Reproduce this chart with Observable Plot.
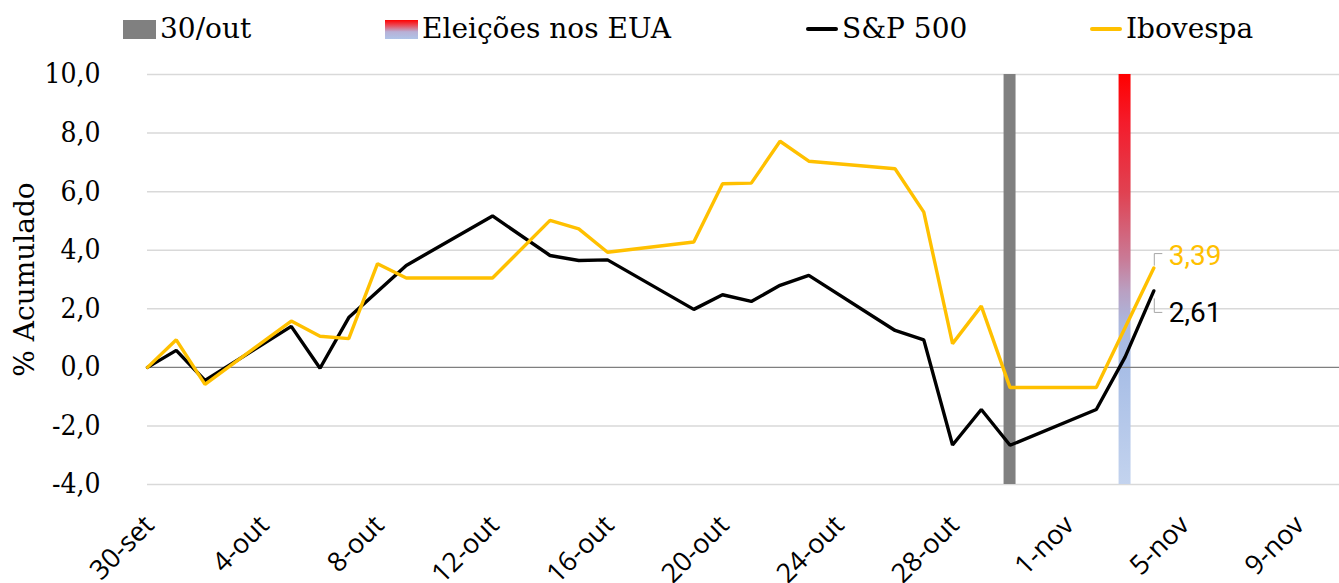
<!DOCTYPE html>
<html>
<head>
<meta charset="utf-8">
<script src="https://cdn.jsdelivr.net/npm/d3@7"></script>
<script src="https://cdn.jsdelivr.net/npm/@observablehq/plot@0.6"></script>
<style>
  html, body { margin: 0; padding: 0; background: #fff; }
  #wrap { width: 1339px; position: relative; }
  #legend { position: relative; height: 56px; width: 1339px; font-family: "DejaVu Serif", serif; font-size: 28px; color: #000; }
  .sw { position: absolute; }
  .lt { position: absolute; top: 11px; line-height: 36px; white-space: nowrap; }
</style>
</head>
<body>
<div id="wrap">
  <div id="legend"></div>
  <div id="chart"></div>
</div>
<script>
// ---- data ----
const dates = ["2020-09-30","2020-10-01","2020-10-02","2020-10-05","2020-10-06","2020-10-07","2020-10-08","2020-10-09",
  "2020-10-12","2020-10-14","2020-10-15","2020-10-16","2020-10-19","2020-10-20","2020-10-21","2020-10-22","2020-10-23",
  "2020-10-26","2020-10-27","2020-10-28","2020-10-29","2020-10-30","2020-11-02","2020-11-03","2020-11-04"];
const sp500 = [0, 0.58, -0.45, 1.40, -0.03, 1.70, null, 3.48,
  5.17, 3.82, 3.65, 3.67, 1.98, 2.48, 2.25, 2.80, 3.14,
  1.26, 0.94, -2.65, -1.44, -2.66, -1.44, 0.35, 2.61];
const ibovespa = [0, 0.94, -0.58, 1.58, 1.06, 0.98, 3.54, 3.05,
  3.05, 5.02, 4.73, 3.93, 4.28, 6.27, 6.29, 7.72, 7.04,
  6.78, 5.30, 0.81, 2.09, -0.69, -0.69, null, 3.39];
const seriesNames = ["S&P 500", "Ibovespa"];
const eventNames = ["30/out", "Eleições nos EUA"];
const eventDates = ["2020-10-30", "2020-11-03"];
const tickDates = ["2020-09-30","2020-10-04","2020-10-08","2020-10-12","2020-10-16","2020-10-20","2020-10-24","2020-10-28","2020-11-01","2020-11-05","2020-11-09"];
const tickLabels = ["30-set","4-out","8-out","12-out","16-out","20-out","24-out","28-out","1-nov","5-nov","9-nov"];
const yTicks = [-4, -2, 0, 2, 4, 6, 8, 10];
const lastLabels = ["3,39", "2,61"];

// ---- build tables ----
const spData = dates.map((d, i) => ({date: new Date(d), v: sp500[i]})).filter(d => d.v != null);
const ibData = dates.map((d, i) => ({date: new Date(d), v: ibovespa[i]})).filter(d => d.v != null);
const evData = eventDates.map((d, i) => ({name: eventNames[i], date: new Date(d)}));
const tickMap = new Map(tickDates.map((d, i) => [+new Date(d), tickLabels[i]]));

const serif = "'DejaVu Serif', serif";
const serifCond = "'DejaVu Serif Condensed', 'DejaVu Serif', serif";
const COLOR_SP = "#000000", COLOR_IB = "#FFC000";

// ---- legend ----
const legend = document.getElementById("legend");
legend.innerHTML = `
  <div class="sw" style="left:123px;top:20px;width:33px;height:19px;background:#808080"></div>
  <div class="lt" style="left:160px">${eventNames[0]}</div>
  <div class="sw" style="left:385px;top:20px;width:33px;height:19px;background:linear-gradient(#FF0000 0%, #E8505E 30%, #B8B0D6 62%, #AFC4E8 100%)"></div>
  <div class="lt" style="left:422px">${eventNames[1]}</div>
  <div class="sw" style="left:806px;top:27px;width:32px;height:4px;background:${COLOR_SP};border-radius:2px"></div>
  <div class="lt" style="left:842px">${seriesNames[0]}</div>
  <div class="sw" style="left:1090px;top:27px;width:32px;height:4px;background:${COLOR_IB};border-radius:2px"></div>
  <div class="lt" style="left:1126px">${seriesNames[1]}</div>
`;

// ---- chart ----
const gradientDefs = () => {
  const ns = "http://www.w3.org/2000/svg";
  const defs = document.createElementNS(ns, "defs");
  defs.innerHTML = `<linearGradient id="elec" x1="0" y1="0" x2="0" y2="1">
    <stop offset="0" stop-color="#FF0000"/>
    <stop offset="0.12" stop-color="#F41C2C"/>
    <stop offset="0.29" stop-color="#E04252"/>
    <stop offset="0.45" stop-color="#C97A96"/>
    <stop offset="0.53" stop-color="#B9A0C2"/>
    <stop offset="0.61" stop-color="#ABB8DE"/>
    <stop offset="0.72" stop-color="#A8BEE6"/>
    <stop offset="1" stop-color="#C3D3EE"/>
  </linearGradient>`;
  return defs;
};

const plot = Plot.plot({
  width: 1339,
  height: 527,
  marginTop: 18,
  marginBottom: 99,
  marginLeft: 147,
  marginRight: 0,
  style: {fontFamily: serif, background: "#fff", overflow: "visible"},
  x: {type: "utc", domain: [new Date("2020-09-30"), new Date("2020-11-10T11:00Z")]},
  y: {domain: [-4, 10]},
  marks: [
    gradientDefs,
    Plot.ruleY(yTicks.filter(t => t !== 0), {stroke: "#D9D9D9", strokeWidth: 1.5}),
    Plot.rect(evData, {
      x1: d => d3.utcHour.offset(d.date, -5),
      x2: d => d3.utcHour.offset(d.date, 5),
      y1: -4, y2: 10,
      fill: (d, i) => i === 0 ? "#808080" : "url(#elec)"
    }),
    Plot.ruleY([0], {stroke: "#7F7F7F", strokeWidth: 1.2}),
    Plot.line(spData, {x: "date", y: "v", stroke: COLOR_SP, strokeWidth: 3.4, strokeLinejoin: "miter"}),
    Plot.line(ibData, {x: "date", y: "v", stroke: COLOR_IB, strokeWidth: 3.4, strokeLinejoin: "miter"}),
    Plot.text([ibData[ibData.length - 1]], {x: "date", y: "v", text: () => lastLabels[0], fill: COLOR_IB,
      dx: 15, dy: -12, textAnchor: "start", fontSize: 28, fontFamily: "Roboto"}),
    Plot.text([spData[spData.length - 1]], {x: "date", y: "v", text: () => lastLabels[1], fill: COLOR_SP,
      dx: 15, dy: 22, textAnchor: "start", fontSize: 28, fontFamily: "Roboto"}),
    Plot.axisY(yTicks, {tickSize: 0, tickPadding: 47, fontSize: 28, fontFamily: serifCond,
      tickFormat: d => d3.format(".1f")(d).replace(".", ",").replace("−", "-"), label: null}),
    Plot.text(["% Acumulado"], {frameAnchor: "left", textAnchor: "middle", lineAnchor: "middle", dx: -122, rotate: -90,
      fontSize: 28, fontFamily: serif, fill: "#000"}),
    Plot.axisX(tickDates.map(d => new Date(d)), {tickSize: 0, tickPadding: 36, dx: 2, tickRotate: -45, fontSize: 27,
      fontFamily: "'Open Sans', sans-serif", tickFormat: d => tickMap.get(+d), label: null})
  ]
});
document.getElementById("chart").appendChild(plot);

// leader lines for the end labels, positioned from the plot's scales
const xs = plot.scale("x"), ysc = plot.scale("y");
const svg = d3.select(plot);
const lastIb = ibData[ibData.length - 1], lastSp = spData[spData.length - 1];
const xi = xs.apply(lastIb.date), yi = ysc.apply(lastIb.v);
const xp = xs.apply(lastSp.date), yp = ysc.apply(lastSp.v);
svg.append("path").attr("d", `M${xi + 1},${yi - 2}V${yi - 14}H${xi + 9}`).attr("fill", "none").attr("stroke", "#A6A6A6").attr("stroke-width", 1);
svg.append("path").attr("d", `M${xp + 1},${yp + 8}V${yp + 22}H${xp + 9}`).attr("fill", "none").attr("stroke", "#A6A6A6").attr("stroke-width", 1);
</script>
</body>
</html>
